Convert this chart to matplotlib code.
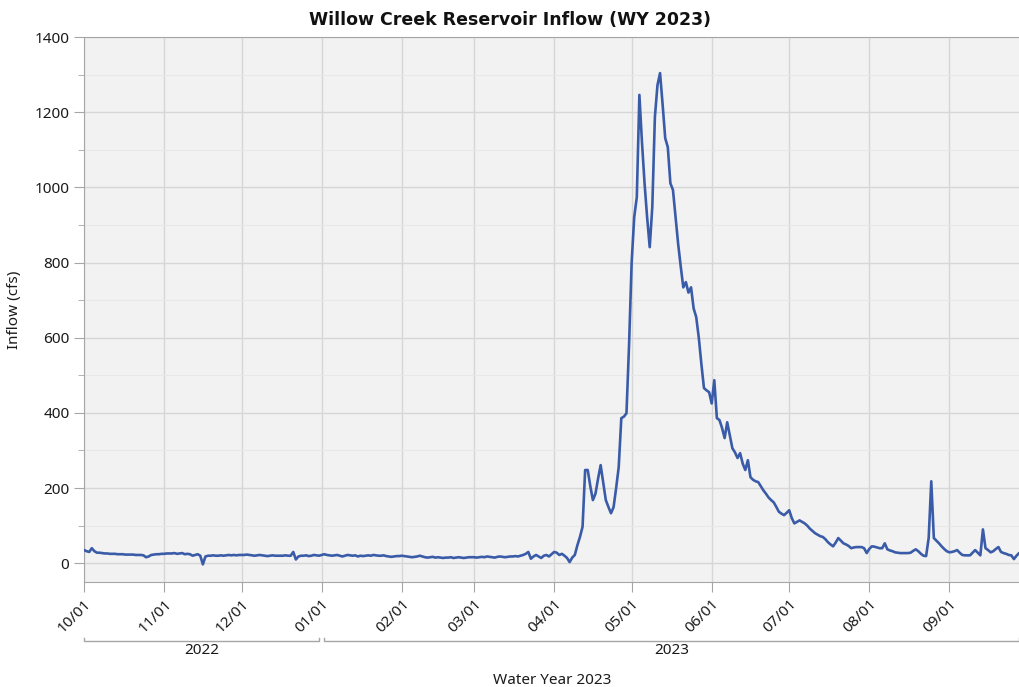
#!/usr/bin/env python3

# daily reservoir inflow for water year 2023

import numpy as np
import pandas as pd
import matplotlib
matplotlib.use('Agg')
import matplotlib.pyplot as plt
import matplotlib.dates as mdates
import matplotlib.transforms as mtransforms

matplotlib.rcParams['font.family'] = ['Noto Sans', 'DejaVu Sans']
matplotlib.rcParams['font.size'] = 11

# daily inflow (cfs), one list per month
oct_ = [35, 32, 30, 40, 32, 28, 28, 27, 26, 26, 25, 25, 25, 24, 24, 24, 23, 23, 23, 23,
        22, 22, 22, 21, 16, 18, 22, 23, 24, 24, 25]
nov = [25, 26, 26, 26, 27, 25, 26, 27, 24, 25, 24, 20, 22, 24, 20, -3, 18, 20, 20, 21,
       20, 20, 21, 20, 21, 22, 21, 22, 21, 22]
dec = [22, 22, 23, 22, 21, 20, 21, 22, 21, 20, 19, 20, 21, 20, 20, 20, 20, 21, 20, 20,
       30, 10, 18, 20, 20, 21, 19, 20, 22, 21, 20]
jan = [22, 24, 22, 21, 20, 21, 22, 20, 18, 20, 22, 21, 20, 21, 18, 20, 19, 20, 21, 20,
       22, 21, 20, 20, 21, 19, 18, 17, 18, 19, 19]
feb = [20, 19, 18, 17, 16, 17, 18, 20, 18, 16, 15, 16, 17, 15, 16, 15, 14, 15, 15, 16,
       14, 15, 16, 15, 14, 15, 16, 16]
mar = [16, 15, 16, 17, 16, 18, 17, 16, 15, 17, 18, 17, 16, 17, 18, 18, 19, 18, 20, 22,
       25, 30, 12, 18, 22, 18, 14, 20, 22, 18, 24]
apr = [30, 28, 22, 25, 20, 14, 3, 15, 22, 48, 70, 97, 248, 248, 205, 168, 185, 225, 261, 215,
       168, 150, 133, 149, 200, 256, 386, 390, 399, 580]
may = [800, 921, 974, 1246, 1120, 1011, 920, 841, 948, 1187, 1272, 1304, 1220, 1131, 1107, 1011,
       993, 920, 850, 790, 734, 748, 720, 734, 678, 655, 600, 530, 466, 460, 455]
jun = [425, 487, 386, 381, 360, 333, 375, 340, 306, 295, 280, 293, 265, 248, 274, 229, 222, 218,
       216, 205, 194, 185, 175, 168, 162, 150, 137, 132, 128, 134]
jul = [141, 120, 106, 110, 114, 110, 106, 100, 92, 86, 80, 76, 72, 70, 64, 56, 50, 45, 55, 67,
       60, 53, 50, 46, 40, 42, 43, 43, 43, 40, 27]
aug = [38, 45, 44, 42, 40, 40, 53, 37, 34, 32, 29, 28, 27, 27, 27, 27, 28, 33, 37, 32,
       25, 20, 19, 67, 218, 67, 60, 53, 45, 38, 32]
sep = [29, 30, 32, 35, 28, 22, 21, 21, 21, 28, 35, 28, 21, 90, 40, 35, 29, 32, 38, 43,
       30, 27, 25, 22, 21, 11, 20, 27, 28, 32]

inflow = np.array(oct_ + nov + dec + jan + feb + mar + apr + may + jun + jul + aug + sep)
dates = pd.date_range('2022-10-01', periods=len(inflow), freq='D')

month_ticks = pd.date_range('2022-10-01', '2023-09-01', freq='MS')
year_labels = ['2022', '2023']

fig = plt.figure(figsize=(10.2, 6.87), dpi=100)
ax = fig.add_axes([0.0824, 0.1528, 0.9167, 0.7933])
ax.set_facecolor('#f2f2f2')

ax.plot(dates, inflow, color='#3a5ca8', lw=1.9, zorder=3)

ax.set_xlim(pd.Timestamp('2022-10-01'), pd.Timestamp('2023-09-28'))
ax.set_ylim(-50, 1400)

ax.set_yticks(np.arange(0, 1401, 200))
ax.set_yticks(np.arange(100, 1400, 200), minor=True)
ax.set_xticks(month_ticks)
ax.xaxis.set_major_formatter(mdates.DateFormatter('%m/%d'))

ax.grid(True, which='major', color='#d6d6d6', lw=1.0, zorder=0)
ax.grid(True, which='minor', axis='y', color='#e8e8e8', lw=0.8, zorder=0)

for side in ['left', 'bottom', 'top']:
    ax.spines[side].set_color('#a6a6a6')
ax.spines['right'].set_visible(False)

ax.tick_params(axis='both', which='major', length=7, color='#a6a6a6',
               labelcolor='#1a1a1a', labelsize=11)
ax.tick_params(axis='y', which='minor', length=4, color='#a6a6a6')
ax.tick_params(axis='x', which='minor', bottom=False)
plt.setp(ax.get_xticklabels(), rotation=45, ha='right', rotation_mode='anchor')

ax.set_ylabel('Inflow (cfs)', color='#1a1a1a', fontsize=11, labelpad=9)
fig.text(0.5, 0.971, 'Willow Creek Reservoir Inflow (WY 2023)', ha='center',
         va='center', fontsize=12.5, fontweight='bold', family='DejaVu Sans',
         color='#111111')

# year brackets under the month labels
trans = mtransforms.blended_transform_factory(ax.transData, ax.transAxes)
spans = [(pd.Timestamp('2022-10-01'), pd.Timestamp('2022-12-31')),
         (pd.Timestamp('2023-01-02'), pd.Timestamp('2023-09-28'))]
yb = -0.108
for (start, end), label in zip(spans, year_labels):
    x0, x1 = mdates.date2num(start), mdates.date2num(end)
    ax.plot([x0, x0, x1, x1], [yb + 0.006, yb, yb, yb + 0.006], color='#a6a6a6',
            lw=1.0, transform=trans, clip_on=False)
    ax.text((x0 + x1) / 2, yb - 0.004, label, transform=trans, ha='center',
            va='top', fontsize=11, color='#1a1a1a')

fig.text(0.541, 0.013, 'Water Year 2023', ha='center', va='center_baseline',
         fontsize=11, color='#1a1a1a')

fig.savefig('out.png', dpi=100)
